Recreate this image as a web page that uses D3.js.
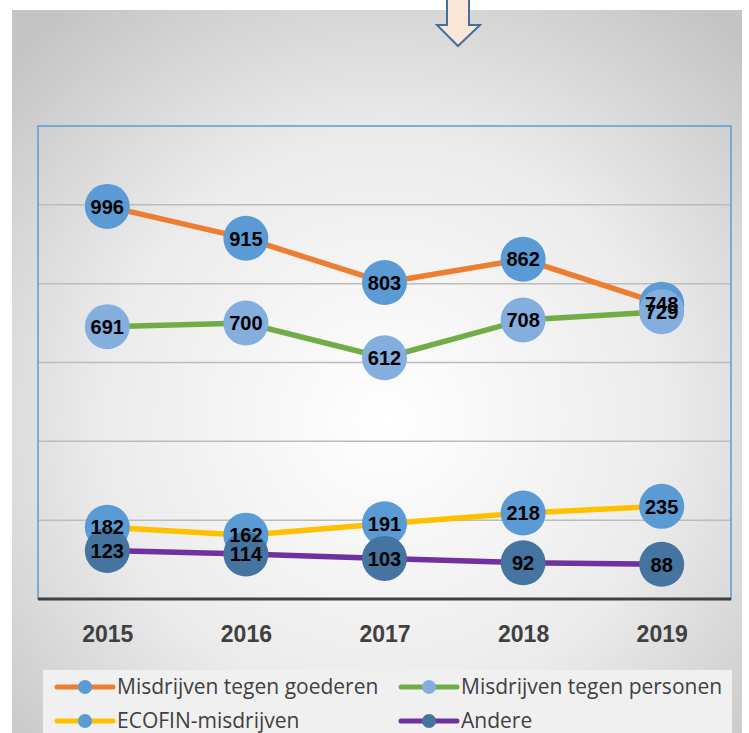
<!DOCTYPE html>
<html>
<head>
<meta charset="utf-8">
<script src="https://cdn.jsdelivr.net/npm/d3@7"></script>
<style>
  html, body { margin: 0; padding: 0; background: #fff; }
  svg { display: block; }
</style>
</head>
<body>
<svg id="chart" width="749" height="733"></svg>
<script>
const years = ["2015", "2016", "2017", "2018", "2019"];
const seriesNames = ["Misdrijven tegen goederen", "Misdrijven tegen personen", "ECOFIN-misdrijven", "Andere"];
const goederen = [996, 915, 803, 862, 748];
const personen = [691, 700, 612, 708, 729];
const ecofin = [182, 162, 191, 218, 235];
const andere = [123, 114, 103, 92, 88];
const yTicks = [0, 200, 400, 600, 800, 1000, 1200];

const lineColors = ["#ed7d31", "#70ad47", "#ffc000", "#7030a0"];
const markerColors = ["#5b9bd5", "#84aede", "#5b9bd5", "#44749f"];

const series = [goederen, personen, ecofin, andere].map((vals, i) => ({
  name: seriesNames[i],
  line: lineColors[i],
  marker: markerColors[i],
  values: vals.map((v, j) => ({ year: years[j], value: v }))
}));

const svg = d3.select("#chart");
const W = 749, H = 733;
const plot = { left: 38, right: 731, top: 126, bottom: 599 };

// background panel with soft radial gradient
const defs = svg.append("defs");
const grad = defs.append("radialGradient")
  .attr("id", "bg")
  .attr("gradientUnits", "userSpaceOnUse")
  .attr("cx", 385).attr("cy", 420).attr("r", 520);
grad.append("stop").attr("offset", "0%").attr("stop-color", "#ffffff");
grad.append("stop").attr("offset", "55%").attr("stop-color", "#ebebeb");
grad.append("stop").attr("offset", "100%").attr("stop-color", "#c4c4c4");

svg.append("rect")
  .attr("x", 12).attr("y", 10)
  .attr("width", 730).attr("height", H - 10)
  .attr("fill", "url(#bg)");

// arrow on top
svg.append("path")
  .attr("d", "M447,-3 L469,-3 L469,25 L480,25 L458,46 L437,25 L447,25 Z")
  .attr("fill", "#fbe5d6")
  .attr("stroke", "#41719c")
  .attr("stroke-width", 2)
  .attr("stroke-linejoin", "miter");

const x = d3.scalePoint()
  .domain(years)
  .range([plot.left, plot.right])
  .padding(0.5);

const y = d3.scaleLinear()
  .domain([0, 1200])
  .range([plot.bottom, plot.top]);

// gridlines
svg.append("g")
  .selectAll("line")
  .data(yTicks.filter(t => t > 0 && t < 1200))
  .join("line")
  .attr("x1", plot.left).attr("x2", plot.right)
  .attr("y1", d => y(d)).attr("y2", d => y(d))
  .attr("stroke", "#bcbcbc")
  .attr("stroke-width", 1.5);

// plot area border
svg.append("rect")
  .attr("x", plot.left).attr("y", plot.top)
  .attr("width", plot.right - plot.left)
  .attr("height", plot.bottom - plot.top)
  .attr("fill", "none")
  .attr("stroke", "#5b9bd5")
  .attr("stroke-width", 1.5);

// x axis
const xAxis = svg.append("g")
  .attr("transform", `translate(0,${plot.bottom})`)
  .call(d3.axisBottom(x).tickSize(0).tickPadding(27));
xAxis.select(".domain")
  .attr("d", `M${plot.left},0H${plot.right}`)
  .attr("stroke", "#404040")
  .attr("stroke-width", 3);
xAxis.selectAll("text")
  .attr("fill", "#404040")
  .attr("font-family", "'Liberation Sans', Arial, sans-serif")
  .attr("font-weight", "bold")
  .attr("font-size", 23);

const line = d3.line()
  .x(d => x(d.year))
  .y(d => y(d.value));

svg.append("g")
  .selectAll("path")
  .data(series)
  .join("path")
  .attr("d", d => line(d.values))
  .attr("fill", "none")
  .attr("stroke", d => d.line)
  .attr("stroke-width", 5.5)
  .attr("stroke-linejoin", "round");

series.forEach(s => {
  svg.append("g")
    .selectAll("circle")
    .data(s.values)
    .join("circle")
    .attr("cx", d => x(d.year))
    .attr("cy", d => y(d.value))
    .attr("r", 22.5)
    .attr("fill", s.marker);
});

series.forEach(s => {
  svg.append("g")
    .selectAll("text")
    .data(s.values)
    .join("text")
    .attr("x", d => x(d.year))
    .attr("y", d => y(d.value))
    .attr("dy", "0.36em")
    .attr("text-anchor", "middle")
    .attr("font-family", "'Liberation Sans', Arial, sans-serif")
    .attr("font-weight", "bold")
    .attr("font-size", 20)
    .attr("fill", "#000")
    .text(d => d.value);
});

// legend
const legend = svg.append("g");
legend.append("rect")
  .attr("x", 43).attr("y", 670)
  .attr("width", 689).attr("height", 70)
  .attr("fill", "#f0f0f0");

const legendPos = [
  { x: 57, y: 687 }, { x: 401, y: 687 },
  { x: 57, y: 721 }, { x: 401, y: 721 }
];

const item = legend.selectAll("g.item")
  .data(series)
  .join("g")
  .attr("class", "item")
  .attr("transform", (d, i) => `translate(${legendPos[i].x},${legendPos[i].y})`);

item.append("line")
  .attr("x1", 0).attr("x2", 56)
  .attr("stroke", d => d.line)
  .attr("stroke-width", 5)
  .attr("stroke-linecap", "round");
item.append("circle")
  .attr("cx", 28).attr("r", 7)
  .attr("fill", d => d.marker);
item.append("text")
  .attr("x", 60)
  .attr("dy", "0.35em")
  .attr("font-family", "'Open Sans', sans-serif")
  .attr("font-size", 21)
  .attr("fill", "#404040")
  .text(d => d.name);
</script>
</body>
</html>
